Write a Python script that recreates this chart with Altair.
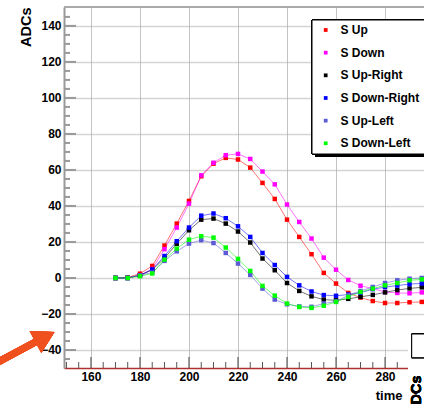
import altair as alt
import pandas as pd

# ---------------- data ----------------
time = [170, 175, 180, 185, 190, 195, 200, 205, 210, 215, 220, 225, 230,
        235, 240, 245, 250, 255, 260, 265, 270, 275, 280, 285, 290, 295]

s_up = [0, 0.3, 2.4, 6.7, 18, 30.2, 42.8, 56.5, 63.5, 66.7, 65.8, 61.3, 52.8,
        43.9, 32.4, 22.8, 13.2, 2.8, -3.1, -8.3, -10.9, -12.8, -13.9, -13.9, -13.5, -13.3]
s_down = [0, 0, 1.5, 5, 16, 28, 41.3, 57, 64, 68.2, 68.9, 66.1, 59.1,
          52, 40.8, 31.1, 21.9, 11.3, 4.6, -1.1, -4.3, -5.9, -7.8, -8.3, -8.5, -8.0]
s_up_right = [0, 0, 1.5, 4.5, 11, 19, 26.5, 32.4, 33, 30.2, 25.8, 19.7, 10.8,
              4.3, -2.8, -7.2, -10.2, -12, -12.4, -11.6, -10.5, -9.4, -8.0, -6.7, -5.8, -5.2]
s_down_right = [0, 0, 1.5, 4.7, 12.2, 20.4, 28, 34.6, 35.8, 33.2, 28.7, 22.8, 13.9,
                7.2, 0.6, -4.1, -7.5, -9.5, -9.9, -9.2, -8.2, -6.2, -5.1, -4.2, -3.4, -3.0]
s_up_left = [0, 0, 1.5, 3, 9.5, 14.8, 19.1, 21, 19.4, 13.9, 8.0, 1.7, -5.9,
             -12, -14.6, -15.8, -16, -14.2, -13, -9.6, -7.2, -5, -2.8, -1.3, -0.4, 0]
s_down_left = [0, 0, 1, 2.5, 10.2, 16.3, 21.3, 23.2, 22.4, 16.9, 10.6, 3.9, -4.4,
               -9.8, -14.2, -16.1, -16.6, -15.4, -13.3, -10.5, -7.8, -5.9, -4.1, -2.8, -1.3, -0.8]

names = ["S Up", "S Down", "S Up-Right", "S Down-Right", "S Up-Left", "S Down-Left"]
colors = ["#ff0000", "#ff00ff", "#000000", "#0000ff", "#5b5bd6", "#00ff00"]
series_values = [s_up, s_down, s_up_right, s_down_right, s_up_left, s_down_left]

x_major = [160, 180, 200, 220, 240, 260, 280]
x_minor = [150, 155, 165, 170, 175, 185, 190, 195, 205, 210, 215, 225, 230, 235,
           245, 250, 255, 265, 270, 275, 285, 290, 295]
y_major = [-40, -20, 0, 20, 40, 60, 80, 100, 120, 140]
y_minor = [-45, -35, -30, -25, -15, -10, -5, 5, 10, 15, 25, 30, 35, 45, 50, 55,
           65, 70, 75, 85, 90, 95, 105, 110, 115, 125, 130, 135, 145]

rows = []
for name, vals in zip(names, series_values):
    for t, v in zip(time, vals):
        rows.append({"t": t, "v": v, "series": name})
df = pd.DataFrame(rows)
legend_df = pd.DataFrame({"series": names})

# ---------------- style ----------------
W, H = 360, 361
FONT = "Liberation Sans"
xs = alt.Scale(domain=[149, 295.9], nice=False, zero=False)
ys = alt.Scale(domain=[-50, 150.5], nice=False, zero=False)
cs = alt.Scale(domain=names, range=colors)

x_axis = alt.Axis(values=x_major, grid=True, gridColor="#c4c4c4", gridWidth=1,
                  ticks=False, tickSize=0, domainColor="#b03030", domainWidth=1.5,
                  labelFont=FONT, labelFontWeight="bold", labelFontSize=12,
                  labelColor="black", labelPadding=3, labelFlush=False,
                  title="time", titleFont=FONT, titleFontWeight="bold",
                  titleFontSize=13, titleColor="black", titleX=338, titleY=31,
                  titleAlign="right", titleBaseline="alphabetic")
y_axis = alt.Axis(values=y_major, grid=True, gridColor="#aaaaaa", gridWidth=1.5,
                  gridDash=[1, 1], ticks=False, tickSize=0, domainColor="#999999",
                  domainWidth=2, labelFont=FONT, labelFontWeight="bold",
                  labelFontSize=12, labelColor="black", labelPadding=3,
                  labelFlush=False, title="ADCs", titleFont=FONT,
                  titleFontWeight="bold", titleFontSize=14.5, titleColor="black",
                  titleAngle=270, titleAlign="right", titleBaseline="middle",
                  titleX=-38, titleY=0)

lines = alt.Chart(df).mark_line(strokeWidth=1, opacity=0.55).encode(
    x=alt.X("t:Q", scale=xs, axis=x_axis),
    y=alt.Y("v:Q", scale=ys, axis=y_axis),
    color=alt.Color("series:N", scale=cs, legend=None),
)
points = alt.Chart(df).mark_square(size=20, opacity=1).encode(
    x=alt.X("t:Q", scale=xs),
    y=alt.Y("v:Q", scale=ys, axis=None),
    color=alt.Color("series:N", scale=cs, legend=None),
)

# inner ticks
ymin_df = pd.DataFrame({"v": y_minor})
ymaj_df = pd.DataFrame({"v": y_major})
xmin_df = pd.DataFrame({"t": x_minor})
xmaj_df = pd.DataFrame({"t": x_major})

ytick_minor = alt.Chart(ymin_df).mark_rule(color="#999999", strokeWidth=2).encode(
    y=alt.Y("v:Q", scale=ys, axis=None), x=alt.value(0), x2=alt.value(6))
ytick_major = alt.Chart(ymaj_df).mark_rule(color="#999999", strokeWidth=2).encode(
    y=alt.Y("v:Q", scale=ys, axis=None), x=alt.value(0), x2=alt.value(12))
xtick_minor = alt.Chart(xmin_df).mark_rule(color="#555555", strokeWidth=1).encode(
    x=alt.X("t:Q", scale=xs), y=alt.value(H), y2=alt.value(H - 6))
xtick_major = alt.Chart(xmaj_df).mark_rule(color="#444444", strokeWidth=1).encode(
    x=alt.X("t:Q", scale=xs), y=alt.value(H), y2=alt.value(H - 11))
top_border = alt.Chart(legend_df).mark_rule(color="#aaaaaa", strokeWidth=2).encode(
    x=alt.value(0), x2=alt.value(W), y=alt.value(0))

# legend box
leg_shadow = alt.Chart(legend_df).mark_rect(color="black").encode(
    x=alt.value(251), x2=alt.value(370), y=alt.value(16), y2=alt.value(150))
leg_box = alt.Chart(legend_df).mark_rect(fill="white", stroke="black", strokeWidth=1).encode(
    x=alt.value(248), x2=alt.value(370), y=alt.value(13), y2=alt.value(147))
leg_y = alt.Y("series:N", scale=alt.Scale(type="point", domain=names, range=[23, 136.3], padding=0), axis=None)
leg_marks = alt.Chart(legend_df).mark_square(size=14, opacity=1).encode(
    x=alt.value(261.7), y=leg_y, color=alt.Color("series:N", scale=cs, legend=None))
leg_text = alt.Chart(legend_df).mark_text(
    align="left", baseline="middle", font=FONT, fontWeight="bold", fontSize=12, color="black"
).encode(x=alt.value(276.5), y=leg_y, text="series:N")

# bottom-right overlapping pad fragment
cover = alt.Chart(legend_df).mark_rect(color="white").encode(
    x=alt.value(344), x2=alt.value(370), y=alt.value(315), y2=alt.value(400))
small_box = alt.Chart(legend_df).mark_rect(fill="white", stroke="black", strokeWidth=1).encode(
    x=alt.value(347.7), x2=alt.value(380), y=alt.value(327), y2=alt.value(350.7))
adcs2 = alt.Chart(legend_df).mark_text(
    angle=270, align="right", baseline="middle", font=FONT, fontWeight="bold",
    fontSize=14.5, color="black"
).encode(x=alt.value(352.5), y=alt.value(368.5), text=alt.value("ADCs"))

# orange arrow annotation
ARROW = "#f0501e"
shaft = alt.Chart(legend_df).mark_rule(color=ARROW, strokeWidth=7).encode(
    x=alt.value(-66), x2=alt.value(-22), y=alt.value(355), y2=alt.value(331.5))
head = alt.Chart(legend_df).mark_point(shape="triangle-right", filled=True, size=620,
                                       angle=332, color=ARROW, opacity=1).encode(
    x=alt.value(-19), y=alt.value(330))

chart = alt.layer(
    lines, ytick_minor, ytick_major, xtick_minor, xtick_major, top_border, points,
    leg_shadow, leg_box, leg_marks, leg_text, cover, small_box, adcs2, shaft, head,
).resolve_scale(y="independent").properties(
    width=W, height=H,
    autosize=alt.AutoSizeParams(type="none"),
    padding={"left": 64, "top": 7, "right": 0, "bottom": 37},
).configure_view(stroke=None).configure(background="white")

chart.save("out.html", embed_options={"renderer": "svg", "actions": False})
